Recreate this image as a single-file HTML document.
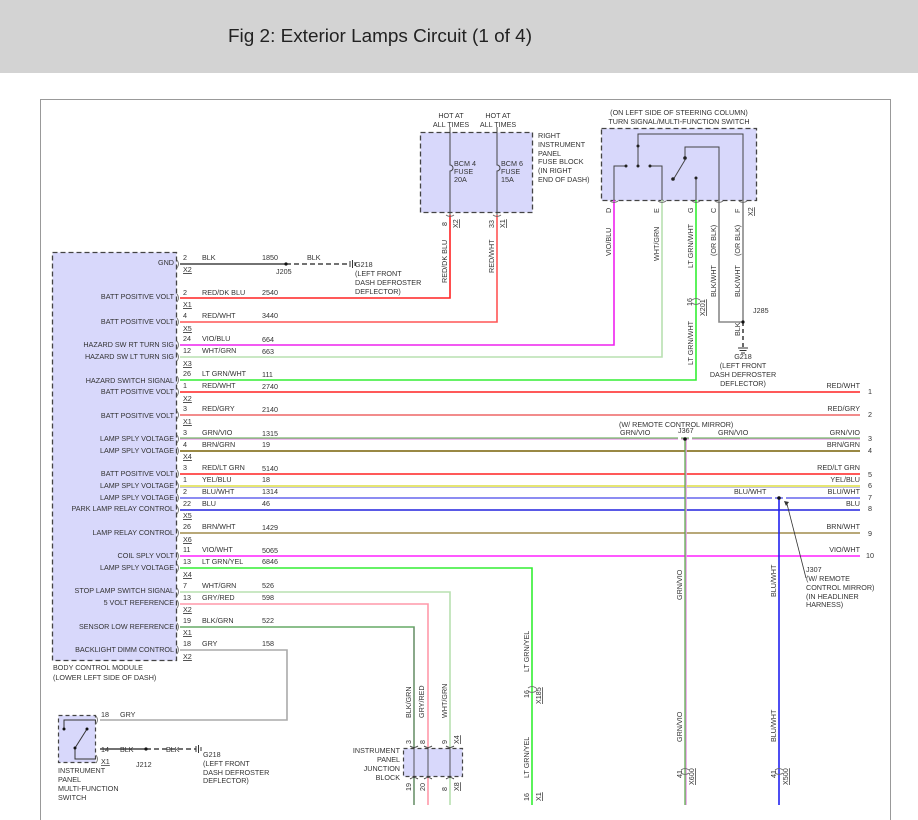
<!DOCTYPE html>
<html><head><meta charset="utf-8"><style>
html,body{margin:0;padding:0;background:#fff}
svg{display:block}
text{font-family:"Liberation Sans",sans-serif;font-size:7.2px;fill:#333}
.r{text-anchor:end}
.m{text-anchor:middle}
.u{text-decoration:underline}
</style></head><body>
<svg width="918" height="820" viewBox="0 0 918 820" xmlns="http://www.w3.org/2000/svg">
<rect x="0" y="0" width="918" height="73" fill="#d3d3d3"/>
<text x="228" y="42" style="font-size:18px;fill:#222" textLength="304" lengthAdjust="spacingAndGlyphs">Fig 2: Exterior Lamps Circuit (1 of 4)</text>
<path d="M40.5 820 V99.5 H890.5 V820" fill="none" stroke="#999" stroke-width="1"/>

<!-- BCM box -->
<rect x="52.5" y="252.5" width="124" height="408" fill="#d8d8fb" stroke="#444" stroke-dasharray="5,3" stroke-width="1.3"/>
<text x="53" y="670">BODY CONTROL MODULE</text>
<text x="53" y="680">(LOWER LEFT SIDE OF DASH)</text>

<!-- fuse box -->
<rect x="420.5" y="132.5" width="112" height="80" fill="#d8d8fb" stroke="#444" stroke-dasharray="5,3" stroke-width="1.3"/>
<text x="451" y="118" class="m">HOT AT</text><text x="451" y="127" class="m">ALL TIMES</text>
<text x="498" y="118" class="m">HOT AT</text><text x="498" y="127" class="m">ALL TIMES</text>
<text x="538" y="138">RIGHT</text><text x="538" y="147">INSTRUMENT</text><text x="538" y="156">PANEL</text>
<text x="538" y="164">FUSE BLOCK</text><text x="538" y="173">(IN RIGHT</text><text x="538" y="182">END OF DASH)</text>
<g stroke="#444" fill="none" stroke-width="1">
<path d="M450 127 V165 a3 3 0 0 1 0 6 V215"/>
<path d="M497 127 V165 a3 3 0 0 1 0 6 V215"/>
</g>
<text x="454" y="166">BCM 4</text><text x="454" y="174">FUSE</text><text x="454" y="182">20A</text>
<text x="501" y="166">BCM 6</text><text x="501" y="174">FUSE</text><text x="501" y="182">15A</text>

<!-- switch box -->
<text x="679" y="115" class="m">(ON LEFT SIDE OF STEERING COLUMN)</text>
<text x="679" y="124" class="m">TURN SIGNAL/MULTI-FUNCTION SWITCH</text>
<rect x="601.5" y="128.5" width="155" height="72" fill="#d8d8fb" stroke="#444" stroke-dasharray="5,3" stroke-width="1.3"/>
<g stroke="#444" fill="none" stroke-width="1">
<path d="M614 200 V166 H626"/><path d="M650 166 H662 V200"/>
<path d="M638 166 V134 H743 V200"/>
<path d="M673 180 L685 160 V147 H719 V200"/>
<path d="M696 200 V178"/>
</g>
<g fill="#222"><circle cx="626" cy="166" r="1.5"/><circle cx="650" cy="166" r="1.5"/><circle cx="638" cy="146" r="1.5"/><circle cx="638" cy="166" r="1.5"/><circle cx="673" cy="179" r="1.8"/><circle cx="685" cy="158" r="1.8"/><circle cx="696" cy="178" r="1.5"/></g>
<g font-size="7"><text transform="translate(611,213) rotate(-90)">D</text><text transform="translate(659,213) rotate(-90)">E</text><text transform="translate(693,213) rotate(-90)">G</text><text transform="translate(716,213) rotate(-90)">C</text><text transform="translate(740,213) rotate(-90)">F</text><text transform="translate(753,216) rotate(-90)" class="u">X2</text></g>

<!-- BCM left labels -->
<g class="r">
<text x="174" y="265" class="r">GND</text>
<text x="174" y="299" class="r">BATT POSITIVE VOLT</text>
<text x="174" y="324" class="r">BATT POSITIVE VOLT</text>
<text x="174" y="347" class="r">HAZARD SW RT TURN SIG</text>
<text x="174" y="359" class="r">HAZARD SW LT TURN SIG</text>
<text x="174" y="383" class="r">HAZARD SWITCH SIGNAL</text>
<text x="174" y="394" class="r">BATT POSITIVE VOLT</text>
<text x="174" y="418" class="r">BATT POSITIVE VOLT</text>
<text x="174" y="441" class="r">LAMP SPLY VOLTAGE</text>
<text x="174" y="453" class="r">LAMP SPLY VOLTAGE</text>
<text x="174" y="476" class="r">BATT POSITIVE VOLT</text>
<text x="174" y="488" class="r">LAMP SPLY VOLTAGE</text>
<text x="174" y="500" class="r">LAMP SPLY VOLTAGE</text>
<text x="174" y="511" class="r">PARK LAMP RELAY CONTROL</text>
<text x="174" y="535" class="r">LAMP RELAY CONTROL</text>
<text x="174" y="558" class="r">COIL SPLY VOLT</text>
<text x="174" y="570" class="r">LAMP SPLY VOLTAGE</text>
<text x="174" y="593" class="r">STOP LAMP SWITCH SIGNAL</text>
<text x="174" y="605" class="r">5 VOLT REFERENCE</text>
<text x="174" y="629" class="r">SENSOR LOW REFERENCE</text>
<text x="174" y="652" class="r">BACKLIGHT DIMM CONTROL</text>
</g>

<!-- wires -->
<g fill="none" stroke-width="1.6">
<path d="M180 264 H286" stroke="#444"/>
<path d="M286 264 H350" stroke="#444" stroke-dasharray="5,3"/>
<path d="M180 298 H450 V215" stroke="#f22"/>
<path d="M180 322 H497 V215" stroke="#f55"/>
<path d="M180 345 H614 V200" stroke="#e2e"/>
<path d="M180 357 H662 V200" stroke="#b8e0b0"/>
<path d="M180 380 H696 V200" stroke="#3e3"/>
<path d="M180 392 H860" stroke="#f22"/>
<path d="M180 415 H860" stroke="#e66"/>
<path d="M180 439 H860" stroke="#e8a0e8"/><path d="M180 438 H860" stroke="#5a4" stroke-width="1"/>
<path d="M180 451 H860" stroke="#998844" stroke-width="2"/>
<path d="M180 474 H860" stroke="#f22"/>
<path d="M180 486 H860" stroke="#dd4"/><path d="M180 487.5 H860" stroke="#aad" stroke-width="0.8"/>
<path d="M180 498 H860" stroke="#66e"/>
<path d="M180 510 H860" stroke="#22d"/>
<path d="M180 533 H860" stroke="#b8a878" stroke-width="2"/>
<path d="M180 556 H860" stroke="#f2f"/>
<path d="M180 568 H532 V805" stroke="#3e3"/>
<path d="M180 592 H450 V805" stroke="#b8e0b0"/>
<path d="M180 604 H428 V805" stroke="#f9a"/>
<path d="M180 627 H414 V805" stroke="#6a6"/><path d="M414 627 V805" stroke="#777" stroke-width="0.7"/>
<path d="M180 650 H287 V720 H100" stroke="#aaa"/>
<path d="M686 439 V805" stroke="#e8a0e8"/><path d="M685 439 V805" stroke="#5a4" stroke-width="1.2"/>
<path d="M779 498 V805" stroke="#22e"/>
<path d="M719 200 V322 H743 V200" stroke="#888"/>
<path d="M743 322 V348" stroke="#444" stroke-dasharray="4,3"/>
<path d="M100 749 H146" stroke="#444"/>
<path d="M146 749 H196" stroke="#444" stroke-dasharray="5,3"/>
</g>
<!-- junction dots -->
<g fill="#111"><circle cx="286" cy="264" r="1.6"/><circle cx="743" cy="322" r="1.6"/><circle cx="685" cy="439" r="1.8"/><circle cx="779" cy="498" r="1.8"/><circle cx="146" cy="749" r="1.6"/></g>
<g fill="#fff"><rect x="678" y="436" width="3" height="5"/><rect x="689" y="436" width="3" height="5"/><rect x="772" y="495" width="3" height="5"/><rect x="783" y="495" width="3" height="5"/></g>
<!-- grounds -->
<g stroke="#333" stroke-width="1"><path d="M350 261 V267 M352.5 260 V268 M355 262 V266"/><path d="M196 746 V752 M198.5 745 V753 M201 747 V751"/><path d="M738 348 H748 M739.5 350.5 H746.5 M741 353 H745"/></g>
<path d="M806 578 L787 504" stroke="#333" stroke-width="0.8"/><path d="M784 501 l5 1 -3 4z" fill="#333"/>

<!-- wire labels (left) -->
<g>
<text x="183" y="260">2</text><text x="202" y="260">BLK</text><text x="262" y="260">1850</text><text x="307" y="260">BLK</text><text x="276" y="274">J205</text>
<text x="355" y="267">G218</text><text x="355" y="276">(LEFT FRONT</text><text x="355" y="285">DASH DEFROSTER</text><text x="355" y="294">DEFLECTOR)</text>
<text x="183" y="295">2</text><text x="202" y="295">RED/DK BLU</text><text x="262" y="295">2540</text>
<text x="183" y="318">4</text><text x="202" y="318">RED/WHT</text><text x="262" y="318">3440</text>
<text x="183" y="341">24</text><text x="202" y="341">VIO/BLU</text><text x="262" y="342">664</text>
<text x="183" y="353">12</text><text x="202" y="353">WHT/GRN</text><text x="262" y="354">663</text>
<text x="183" y="376">26</text><text x="202" y="376">LT GRN/WHT</text><text x="262" y="377">111</text>
<text x="183" y="388">1</text><text x="202" y="388">RED/WHT</text><text x="262" y="389">2740</text>
<text x="183" y="411">3</text><text x="202" y="411">RED/GRY</text><text x="262" y="412">2140</text>
<text x="183" y="435">3</text><text x="202" y="435">GRN/VIO</text><text x="262" y="436">1315</text>
<text x="183" y="447">4</text><text x="202" y="447">BRN/GRN</text><text x="262" y="447">19</text>
<text x="183" y="470">3</text><text x="202" y="470">RED/LT GRN</text><text x="262" y="471">5140</text>
<text x="183" y="482">1</text><text x="202" y="482">YEL/BLU</text><text x="262" y="482">18</text>
<text x="183" y="494">2</text><text x="202" y="494">BLU/WHT</text><text x="262" y="494">1314</text>
<text x="183" y="506">22</text><text x="202" y="506">BLU</text><text x="262" y="506">46</text>
<text x="183" y="529">26</text><text x="202" y="529">BRN/WHT</text><text x="262" y="530">1429</text>
<text x="183" y="552">11</text><text x="202" y="552">VIO/WHT</text><text x="262" y="553">5065</text>
<text x="183" y="564">13</text><text x="202" y="564">LT GRN/YEL</text><text x="262" y="564">6846</text>
<text x="183" y="588">7</text><text x="202" y="588">WHT/GRN</text><text x="262" y="588">526</text>
<text x="183" y="600">13</text><text x="202" y="600">GRY/RED</text><text x="262" y="600">598</text>
<text x="183" y="623">19</text><text x="202" y="623">BLK/GRN</text><text x="262" y="623">522</text>
<text x="183" y="646">18</text><text x="202" y="646">GRY</text><text x="262" y="646">158</text>
</g>
<g class="u">
<text x="183" y="272" class="u">X2</text><text x="183" y="307" class="u">X1</text><text x="183" y="331" class="u">X5</text>
<text x="183" y="366" class="u">X3</text><text x="183" y="401" class="u">X2</text><text x="183" y="424" class="u">X1</text>
<text x="183" y="459" class="u">X4</text><text x="183" y="518" class="u">X5</text><text x="183" y="542" class="u">X6</text>
<text x="183" y="577" class="u">X4</text><text x="183" y="612" class="u">X2</text><text x="183" y="635" class="u">X1</text><text x="183" y="659" class="u">X2</text>
</g>
<!-- connector chevrons on BCM -->
<g stroke="#666" fill="none" stroke-width="0.8">
<path d="M177 260 q3 4 0 8"/><path d="M177 294 q3 4 0 8"/><path d="M177 318 q3 4 0 8"/><path d="M177 341 q3 4 0 8"/><path d="M177 353 q3 4 0 8"/><path d="M177 376 q3 4 0 8"/><path d="M177 388 q3 4 0 8"/><path d="M177 411 q3 4 0 8"/><path d="M177 435 q3 4 0 8"/><path d="M177 447 q3 4 0 8"/><path d="M177 470 q3 4 0 8"/><path d="M177 482 q3 4 0 8"/><path d="M177 494 q3 4 0 8"/><path d="M177 506 q3 4 0 8"/><path d="M177 529 q3 4 0 8"/><path d="M177 552 q3 4 0 8"/><path d="M177 564 q3 4 0 8"/><path d="M177 588 q3 4 0 8"/><path d="M177 600 q3 4 0 8"/><path d="M177 623 q3 4 0 8"/><path d="M177 646 q3 4 0 8"/>
<path d="M446 215 q4 3 8 0"/><path d="M493 215 q4 3 8 0"/>
<path d="M610 201 q4 3 8 0"/><path d="M658 201 q4 3 8 0"/><path d="M692 201 q4 3 8 0"/><path d="M715 201 q4 3 8 0"/><path d="M739 201 q4 3 8 0"/>
<path d="M692 300 q4 -3 8 0 M692 303 q4 3 8 0"/>
<path d="M528 688 q4 -3 8 0 M528 691 q4 3 8 0"/>
<path d="M681 770 q4 -3 8 0 M681 773 q4 3 8 0"/>
<path d="M775 770 q4 -3 8 0 M775 773 q4 3 8 0"/>
</g>

<!-- vertical labels -->
<g>
<text transform="translate(447,226) rotate(-90)">8</text><text transform="translate(458,228) rotate(-90)" class="u">X2</text>
<text transform="translate(494,228) rotate(-90)">33</text><text transform="translate(505,228) rotate(-90)" class="u">X1</text>
<text transform="translate(447,283) rotate(-90)">RED/DK BLU</text>
<text transform="translate(494,273) rotate(-90)">RED/WHT</text>
<text transform="translate(611,256) rotate(-90)">VIO/BLU</text>
<text transform="translate(659,261) rotate(-90)">WHT/GRN</text>
<text transform="translate(693,268) rotate(-90)">LT GRN/WHT</text>
<text transform="translate(716,256) rotate(-90)">(OR BLK)</text>
<text transform="translate(716,297) rotate(-90)">BLK/WHT</text>
<text transform="translate(740,256) rotate(-90)">(OR BLK)</text>
<text transform="translate(740,297) rotate(-90)">BLK/WHT</text>
<text transform="translate(692,306) rotate(-90)">16</text><text transform="translate(705,316) rotate(-90)" class="u">X201</text>
<text transform="translate(693,365) rotate(-90)">LT GRN/WHT</text>
<text transform="translate(740,336) rotate(-90)">BLK</text>
<text x="753" y="313">J285</text>
<text x="743" y="359" class="m">G218</text><text x="743" y="368" class="m">(LEFT FRONT</text><text x="743" y="377" class="m">DASH DEFROSTER</text><text x="743" y="386" class="m">DEFLECTOR)</text>
<text transform="translate(529,672) rotate(-90)">LT GRN/YEL</text>
<text transform="translate(529,698) rotate(-90)">16</text><text transform="translate(541,704) rotate(-90)" class="u">X185</text>
<text transform="translate(529,778) rotate(-90)">LT GRN/YEL</text>
<text transform="translate(529,801) rotate(-90)">16</text><text transform="translate(541,801) rotate(-90)" class="u">X1</text>
<text transform="translate(682,600) rotate(-90)">GRN/VIO</text>
<text transform="translate(682,742) rotate(-90)">GRN/VIO</text>
<text transform="translate(682,778) rotate(-90)">41</text><text transform="translate(694,785) rotate(-90)" class="u">X600</text>
<text transform="translate(776,597) rotate(-90)">BLU/WHT</text>
<text transform="translate(776,742) rotate(-90)">BLU/WHT</text>
<text transform="translate(776,778) rotate(-90)">41</text><text transform="translate(788,785) rotate(-90)" class="u">X500</text>
<text transform="translate(411,718) rotate(-90)">BLK/GRN</text>
<text transform="translate(424,718) rotate(-90)">GRY/RED</text>
<text transform="translate(447,718) rotate(-90)">WHT/GRN</text>
</g>

<!-- right labels -->
<g>
<text x="860" y="388" class="r">RED/WHT</text><text x="868" y="394">1</text>
<text x="860" y="411" class="r">RED/GRY</text><text x="868" y="417">2</text>
<text x="619" y="427">(W/ REMOTE CONTROL MIRROR)</text>
<text x="620" y="435">GRN/VIO</text><text x="678" y="433">J367</text><text x="718" y="435">GRN/VIO</text>
<text x="860" y="435" class="r">GRN/VIO</text><text x="868" y="441">3</text>
<text x="860" y="447" class="r">BRN/GRN</text><text x="868" y="453">4</text>
<text x="860" y="470" class="r">RED/LT GRN</text><text x="868" y="477">5</text>
<text x="860" y="482" class="r">YEL/BLU</text><text x="868" y="488">6</text>
<text x="734" y="494">BLU/WHT</text>
<text x="860" y="494" class="r">BLU/WHT</text><text x="868" y="500">7</text>
<text x="860" y="506" class="r">BLU</text><text x="868" y="511">8</text>
<text x="860" y="529" class="r">BRN/WHT</text><text x="868" y="536">9</text>
<text x="860" y="552" class="r">VIO/WHT</text><text x="866" y="558">10</text>
<text x="806" y="572">J307</text><text x="806" y="581">(W/ REMOTE</text><text x="806" y="590">CONTROL MIRROR)</text><text x="806" y="599">(IN HEADLINER</text><text x="806" y="607">HARNESS)</text>
</g>

<!-- instrument panel multi-function switch -->
<rect x="58.5" y="715.5" width="37" height="47" fill="#d8d8fb" stroke="#444" stroke-dasharray="4,3" stroke-width="1.2"/>
<g stroke="#333" fill="none" stroke-width="1"><path d="M96 720 H64 V729"/><path d="M87 729 L75 748 V759 H96"/></g>
<g fill="#111"><circle cx="64" cy="729" r="1.5"/><circle cx="87" cy="729" r="1.5"/><circle cx="75" cy="748" r="1.5"/></g>
<g stroke="#666" fill="none" stroke-width="0.8"><path d="M96 716 q3 4 0 8"/><path d="M96 755 q3 4 0 8"/></g>
<text x="101" y="717">18</text><text x="120" y="717">GRY</text>
<text x="101" y="752">14</text><text x="120" y="752">BLK</text><text x="166" y="752">BLK</text>
<text x="101" y="764" class="u">X1</text><text x="136" y="767">J212</text>
<text x="203" y="757">G218</text><text x="203" y="766">(LEFT FRONT</text><text x="203" y="775">DASH DEFROSTER</text><text x="203" y="783">DEFLECTOR)</text>
<text x="58" y="773">INSTRUMENT</text><text x="58" y="782">PANEL</text><text x="58" y="791">MULTI-FUNCTION</text><text x="58" y="800">SWITCH</text>

<!-- junction block -->
<rect x="403.5" y="748.5" width="59" height="28" fill="#d8d8fb" stroke="#444" stroke-dasharray="4,3" stroke-width="1.2"/>
<g stroke="#333" stroke-width="0.8" fill="none"><path d="M414 748 V777 M428 748 V777 M450 748 V777"/>
<path d="M410 746 q4 3 8 0 M424 746 q4 3 8 0 M446 746 q4 3 8 0 M410 779 q4 -3 8 0 M424 779 q4 -3 8 0 M446 779 q4 -3 8 0"/></g>
<text x="400" y="753" class="r">INSTRUMENT</text><text x="400" y="762" class="r">PANEL</text><text x="400" y="771" class="r">JUNCTION</text><text x="400" y="780" class="r">BLOCK</text>
<g>
<text transform="translate(411,744) rotate(-90)">3</text><text transform="translate(425,744) rotate(-90)">8</text><text transform="translate(447,744) rotate(-90)">9</text><text transform="translate(459,744) rotate(-90)" class="u">X4</text>
<text transform="translate(411,791) rotate(-90)">19</text><text transform="translate(425,791) rotate(-90)">20</text><text transform="translate(447,791) rotate(-90)">8</text><text transform="translate(459,791) rotate(-90)" class="u">X8</text>
</g>
</svg>
</body></html>
